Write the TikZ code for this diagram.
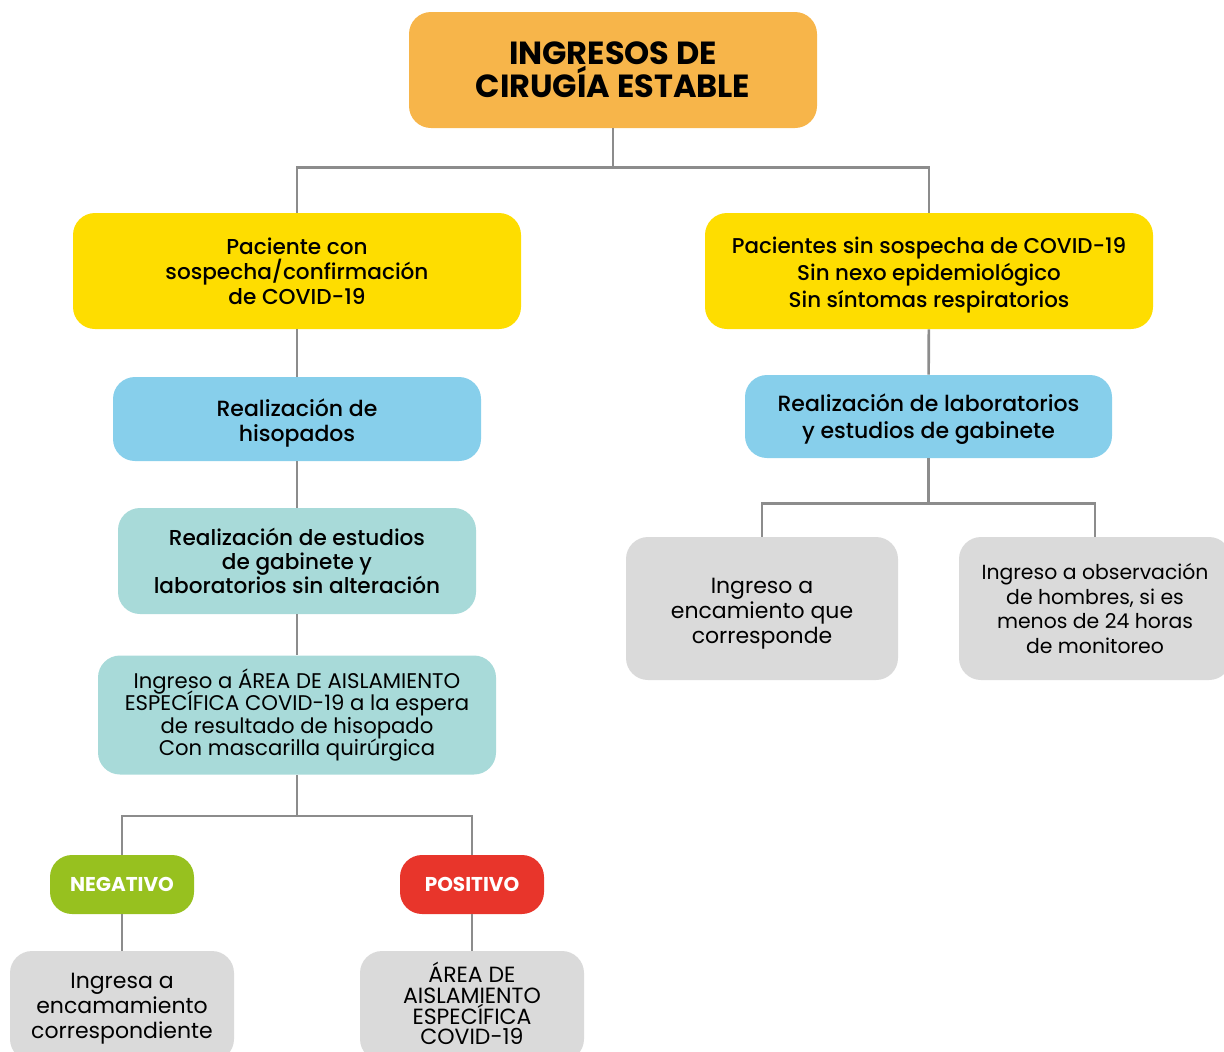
\documentclass[tikz,border=0pt]{standalone}
\usepackage{fontspec}
\setmainfont{Poppins}
\newfontfamily\medfont{Poppins Medium}
\usepackage{tikz}
\usetikzlibrary{positioning,calc}
\definecolor{myorange}{RGB}{247,181,74}
\definecolor{myyellow}{RGB}{254,221,0}
\definecolor{myblue}{RGB}{135,207,235}
\definecolor{myteal}{RGB}{168,218,217}
\definecolor{mygreen}{RGB}{151,193,31}
\definecolor{myred}{RGB}{232,53,43}
\definecolor{mygray}{RGB}{218,218,218}
\definecolor{myline}{RGB}{140,140,140}
\newcommand{\tightlines}{\lineskiplimit=-10pt\relax}
\newcommand{\strutup}[1]{\rule{0pt}{#1}}
\newcommand{\strutdown}[1]{\rule[-#1]{0pt}{0pt}}
\tikzstyle{box}=[rounded corners=11pt,align=center,inner sep=0pt,text=black]
\tikzstyle{titlebox}=[box,fill=myorange,minimum width=204pt,minimum height=58pt,font=\fontsize{16}{16.5}\selectfont\bfseries]
\tikzstyle{casebox}=[box,fill=myyellow,minimum width=224pt,minimum height=58pt,font=\medfont\fontsize{10.8}{12.5}\selectfont]
\tikzstyle{stepbox}=[box,fill=myblue,minimum height=42pt,font=\medfont\fontsize{11}{12.5}\selectfont]
\tikzstyle{tealbox}=[box,fill=myteal,font=\medfont\fontsize{10.8}{12}\selectfont]
\tikzstyle{resultbox}=[box,minimum width=72pt,minimum height=29.5pt,text=white,font=\fontsize{10}{11}\selectfont\bfseries]
\tikzstyle{endbox}=[box,fill=mygray,font=\fontsize{11}{12.5}\selectfont]
\tikzstyle{link}=[draw=myline,line width=1.3pt]

\begin{document}
\begin{tikzpicture}[x=0.5pt,y=-0.5pt]
\useasboundingbox (0,0) rectangle (1224,1051);
% top
\node [titlebox] (ingresos) at (613,70) {INGRESOS DE\\CIRUGÍA ESTABLE};
\node [casebox] (consospecha) at (297,271) {Paciente con\\sospecha/confirmación\\de COVID-19};
\node [casebox,font=\medfont\fontsize{10.7}{13.5}\selectfont] (sinsospecha) at (929,271) {\strutup{12pt}Pacientes sin sospecha de COVID-19\\Sin nexo epidemiológico\\Sin síntomas respiratorios};
% left branch
\node [stepbox,minimum width=184pt] (hisopados) at (297,419) {\strutup{13.2pt}Realización de\\hisopados};
\node [tealbox,minimum width=179pt,minimum height=53pt] (estudios) at (297,561) {Realización de estudios\\de gabinete y\\laboratorios sin alteración};
\node [tealbox,minimum width=199pt,minimum height=59.5pt,font=\fontsize{10.6}{11.2}\selectfont\tightlines] (aislamiento) at (297,715) {Ingreso a ÁREA DE AISLAMIENTO\\ESPECÍFICA COVID-19 a la espera\\de resultado de hisopado\\Con mascarilla quirúrgica};
\node [resultbox,fill=mygreen] (negativo) at (122,884.5) {NEGATIVO};
\node [resultbox,fill=myred] (positivo) at (472,884.5) {POSITIVO};
\node [endbox,minimum width=112pt,minimum height=55pt] (encamamiento) at (122,1006) {\strutup{10.2pt}Ingresa a\\encamamiento\\correspondiente};
\node [endbox,minimum width=112pt,minimum height=55pt,font=\fontsize{11}{10.3}\selectfont\tightlines] (areacovid) at (472,1006) {ÁREA DE\\AISLAMIENTO\\ESPECÍFICA\\COVID-19\strutdown{2.5pt}};
% right branch
\node [stepbox,minimum width=183.5pt,minimum height=41.5pt,font=\medfont\fontsize{11}{13.5}\selectfont] (laboratorios) at (928.5,416.5) {\strutup{11.2pt}Realización de laboratorios\\y estudios de gabinete};
\node [endbox,minimum width=136pt,minimum height=71.5pt] (encamiento) at (762,608.5) {\strutup{13.2pt}Ingreso a\\encamiento que\\corresponde};
\node [endbox,minimum width=136pt,minimum height=71.5pt,font=\fontsize{10.2}{12.4}\selectfont] (observacion) at (1095,608.5) {Ingreso a observación\\de hombres, si es\\menos de 24 horas\\de monitoreo};
% connectors
\draw [link] (ingresos.south) -- ++(0,39) coordinate (split1);
\draw [link] (consospecha.north) |- (split1) -| (sinsospecha.north);
\draw [link] (consospecha) -- (hisopados);
\draw [link] (hisopados) -- (estudios);
\draw [link] (estudios) -- (aislamiento);
\draw [link] (aislamiento.south) -- ++(0,41) coordinate (split2);
\draw [link] (negativo.north) |- (split2) -| (positivo.north);
\draw [link] (negativo) -- (encamamiento);
\draw [link] (positivo) -- (areacovid);
\draw [link] (sinsospecha) -- (laboratorios);
\draw [link] (laboratorios.south) -- ++(0,45) coordinate (split3);
\draw [link] (encamiento.north) |- (split3) -| (observacion.north);
\end{tikzpicture}
\end{document}
